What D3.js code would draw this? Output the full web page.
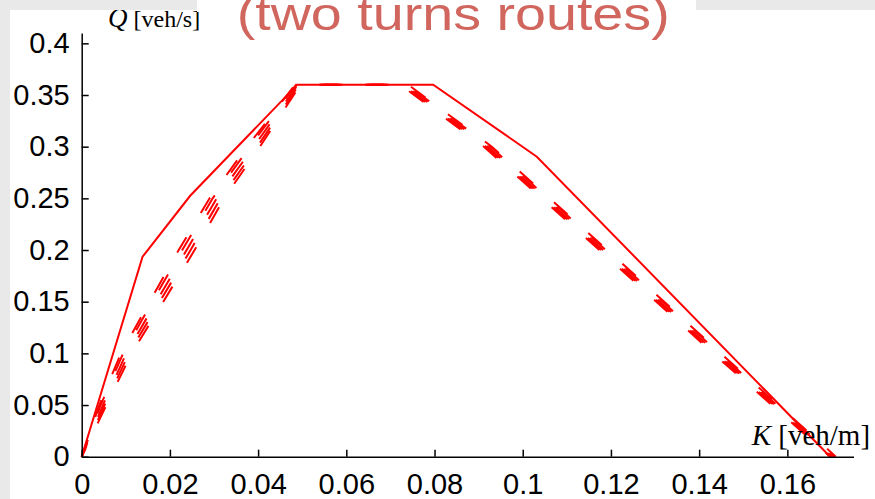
<!DOCTYPE html>
<html>
<head>
<meta charset="utf-8">
<script src="https://cdn.jsdelivr.net/npm/d3@7"></script>
<style>
  html, body { margin: 0; padding: 0; background: #e9e9e9; }
  .axis text { font-family: "Liberation Sans", Arial, sans-serif; font-size: 29px; fill: #000; }
  .axis path, .axis line { stroke: #000; stroke-width: 1.5px; }
</style>
</head>
<body>
<div id="chart"></div>
<script>
// flow (Q) vs density (K)
const kSolid = [0, 0.0138, 0.0246, 0.0489, 0.0797, 0.1032, 0.1697];
const qSolid = [0, 0.1935, 0.2525, 0.36, 0.36, 0.2903, 0];

const qDash = [0, 0.05, 0.10, 0.15, 0.20, 0.25, 0.30, 0.36, 0.36, 0.30, 0.20, 0.10, 0];
const kDash1 = [0, 0.0043, 0.0094, 0.0160, 0.0228, 0.0297, 0.0381, 0.0486, 0.0737, 0.0927, 0.1188, 0.1446, 0.1707];
const kDash2 = [0, 0.0048, 0.0101, 0.0169, 0.0238, 0.0306, 0.0390, 0.0490, 0.0731, 0.0921, 0.1182, 0.1440, 0.1703];
const kDash3 = [0, 0.0052, 0.0107, 0.0177, 0.0247, 0.0315, 0.0398, 0.0493, 0.0727, 0.0917, 0.1178, 0.1437, 0.1700];
const kDash4 = [0, 0.0056, 0.0113, 0.0185, 0.0256, 0.0323, 0.0404, 0.0496, 0.0722, 0.0912, 0.1174, 0.1432, 0.1697];
const kDash5 = [0, 0.0040, 0.0089, 0.0154, 0.0220, 0.0290, 0.0375, 0.0484, 0.0740, 0.0930, 0.1192, 0.1449, 0.1710];

const xTicks = [0, 0.02, 0.04, 0.06, 0.08, 0.1, 0.12, 0.14, 0.16];
const yTicks = [0, 0.05, 0.1, 0.15, 0.2, 0.25, 0.3, 0.35, 0.4];

const W = 875, H = 499;

const svg = d3.select("#chart")
  .append("svg")
  .attr("width", W)
  .attr("height", H)
  .style("display", "block");

// white slide panel
svg.append("rect")
  .attr("x", 10).attr("y", 10)
  .attr("width", W - 10).attr("height", H - 10)
  .attr("fill", "#fff");

const x = d3.scaleLinear().domain([0, 0.175]).range([81.7, 853.5]);
const y = d3.scaleLinear().domain([0, 0.41]).range([456.7, 33]);

const line = d3.line()
  .x(d => x(d[0]))
  .y(d => y(d[1]));

// dashed curves
const dashSets = [kDash1, kDash2, kDash3, kDash4, kDash5];
const dashOffsets = [0, 3, 6, 9, 4];
dashSets.forEach((ks, i) => {
  svg.append("path")
    .datum(ks.map((k, j) => [k, qDash[j]]))
    .attr("d", line)
    .attr("fill", "none")
    .attr("stroke", "#ff0000")
    .attr("stroke-width", 2)
    .attr("stroke-dasharray", "18,28")
    .attr("stroke-dashoffset", dashOffsets[i]);
});

// solid curve
svg.append("path")
  .datum(kSolid.map((k, i) => [k, qSolid[i]]))
  .attr("d", line)
  .attr("fill", "none")
  .attr("stroke", "#ff0000")
  .attr("stroke-width", 2);

svg.append("g")
  .attr("class", "axis")
  .attr("transform", `translate(0,${y(0)})`)
  .call(d3.axisBottom(x).tickValues(xTicks).tickFormat(d3.format("")).tickSizeInner(-7).tickSizeOuter(0).tickPadding(17));

svg.append("g")
  .attr("class", "axis")
  .attr("transform", `translate(${x(0)},0)`)
  .call(d3.axisLeft(y).tickValues(yTicks).tickFormat(d3.format("")).tickSizeInner(-7).tickSizeOuter(0).tickPadding(12));

// axis labels
const kLab = svg.append("text")
  .attr("x", 751.7)
  .attr("y", 445)
  .style("font-family", "'Liberation Serif', 'Times New Roman', serif")
  .style("font-size", "29px");
kLab.append("tspan").style("font-style", "italic").text("K");
kLab.append("tspan").text(" [veh/m]");

svg.append("text")
  .attr("x", 108)
  .attr("y", 27)
  .style("font-family", "'Liberation Serif', 'Times New Roman', serif")
  .style("font-size", "24px")
  .html('<tspan font-style="italic" font-size="27px">Q</tspan> [veh/s]');

// grey strip over the top, title box
svg.append("rect")
  .attr("x", 0).attr("y", 0)
  .attr("width", W).attr("height", 10)
  .attr("fill", "#e9e9e9");
svg.append("rect")
  .attr("x", 197).attr("y", 0)
  .attr("width", 499).attr("height", 12)
  .attr("fill", "#fff");

svg.append("text")
  .attr("x", 236.7)
  .attr("y", 29.5)
  .attr("textLength", 433)
  .attr("lengthAdjust", "spacingAndGlyphs")
  .style("font-family", "'Liberation Sans', Arial, sans-serif")
  .style("font-size", "46px")
  .attr("fill", "#d1665f")
  .text("(two turns routes)");
</script>
</body>
</html>
